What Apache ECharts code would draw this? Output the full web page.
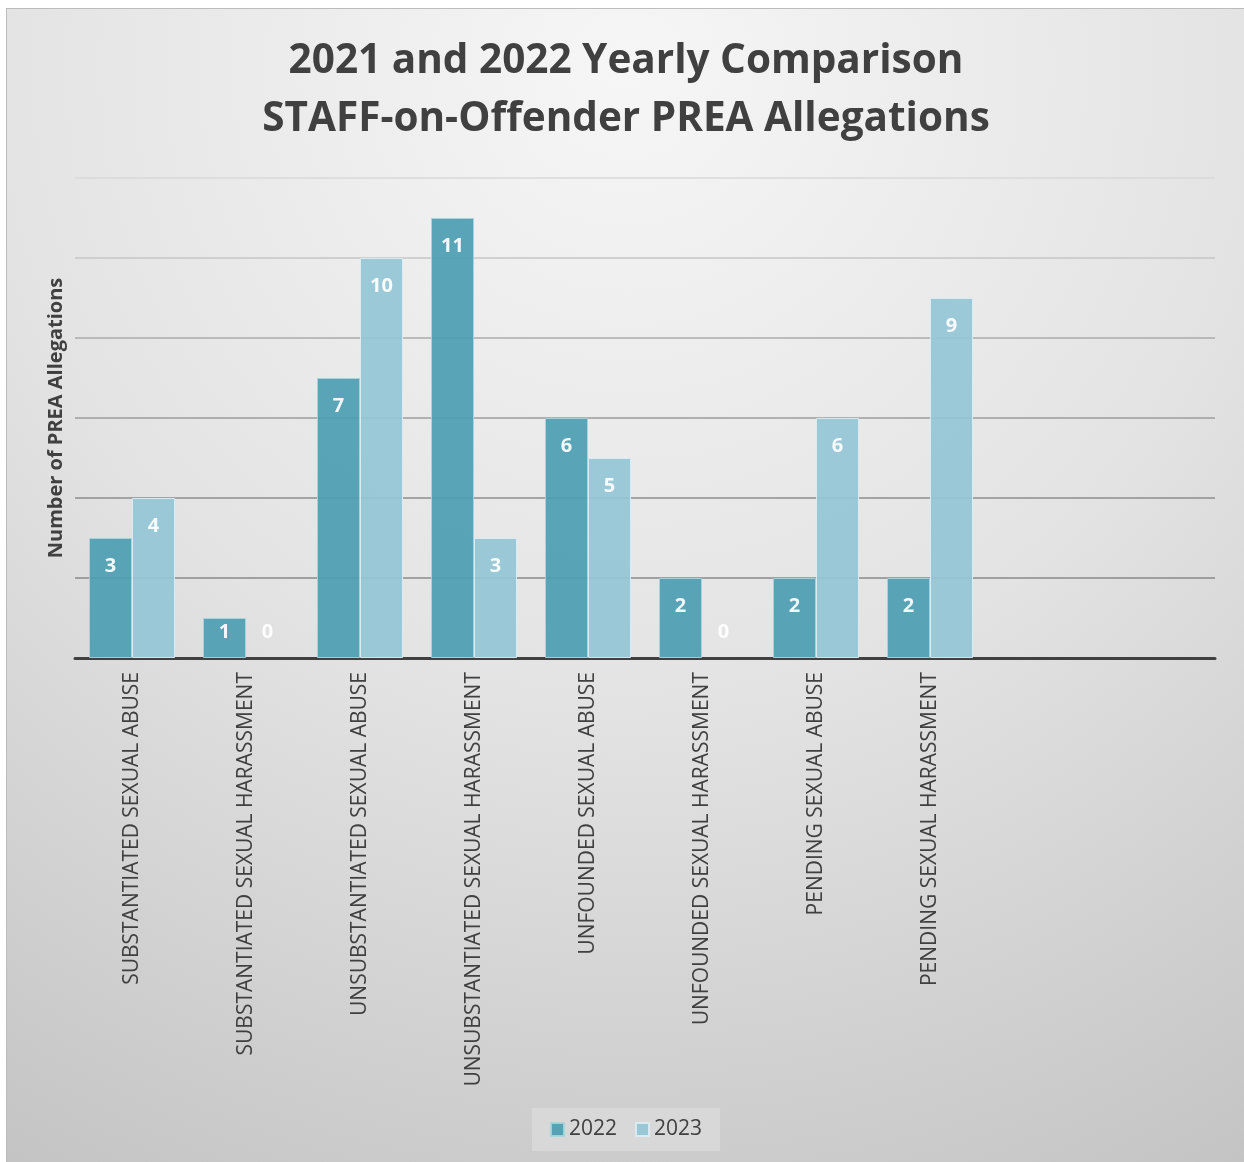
<!DOCTYPE html>
<html>
<head>
<meta charset="utf-8">
<script src="https://cdn.jsdelivr.net/npm/echarts@6/dist/echarts.min.js"></script>
<style>
  html, body { margin: 0; padding: 0; background: #fff; overflow: hidden; }
  #chart {
    position: absolute;
    left: 6px;
    top: 8px;
    width: 1238px;
    height: 1154px;
    border-top: 1px solid #bcbcbc;
    border-left: 1px solid #bcbcbc;
  }
</style>
</head>
<body>
<div id="chart"></div>
<script>
const categories = [
  "SUBSTANTIATED SEXUAL ABUSE",
  "SUBSTANTIATED SEXUAL HARASSMENT",
  "UNSUBSTANTIATED SEXUAL ABUSE",
  "UNSUBSTANTIATED SEXUAL HARASSMENT",
  "UNFOUNDED SEXUAL ABUSE",
  "UNFOUNDED SEXUAL HARASSMENT",
  "PENDING SEXUAL ABUSE",
  "PENDING SEXUAL HARASSMENT",
  "",
  ""
];
const values2022 = [3, 1, 7, 11, 6, 2, 2, 2, null, null];
const values2023 = [4, 0, 10, 3, 5, 0, 6, 9, null, null];
const seriesNames = ["2022", "2023"];

// label sits 28px under the bar top, short bars push it up
const labelPos = (v) => (v === 0 ? ["50%", -26] : v === 1 ? ["50%", 14] : ["50%", 28]);
const toData = (vals) =>
  vals.map((v) => {
    if (v === null) return null;
    const item = { value: v, label: { position: labelPos(v) } };
    if (v === 0) item.itemStyle = { borderWidth: 0 };
    return item;
  });

const chart = echarts.init(document.getElementById("chart"));

const barLabel = {
  show: true,
  color: "#ffffff",
  fontFamily: "Open Sans",
  fontWeight: "bold",
  fontSize: 20,
  align: "center",
  verticalAlign: "middle",
};

chart.setOption({
  backgroundColor: new echarts.graphic.RadialGradient(0.5, 0.05, 1.1, [
    { offset: 0, color: "#f6f6f6" },
    { offset: 0.5, color: "#e3e3e3" },
    { offset: 1, color: "#c3c3c3" },
  ]),
  title: {
    text: "2021 and 2022 Yearly Comparison\nSTAFF-on-Offender PREA Allegations",
    left: "center",
    top: 23,
    padding: 0,
    textStyle: {
      fontFamily: "Open Sans",
      fontWeight: "bold",
      fontSize: 40.5,
      lineHeight: 58,
      color: "#404040",
    },
  },
  grid: { left: 68, right: 30, top: 169, bottom: 505, containLabel: false },
  legend: {
    data: seriesNames,
    bottom: 12,
    left: "center",
    padding: [11, 18],
    itemGap: 18,
    itemWidth: 13,
    itemHeight: 13,
    icon: "rect",
    backgroundColor: "rgba(255,255,255,0.22)",
    textStyle: { fontFamily: "Open Sans", fontSize: 21, color: "#404040" },
  },
  xAxis: {
    type: "category",
    data: categories,
    axisLine: { show: true, lineStyle: { color: "#404040", width: 3 } },
    axisTick: { show: false },
    axisLabel: {
      interval: 0,
      rotate: 90,
      margin: 14,
      fontFamily: "Open Sans",
      fontSize: 21,
      color: "#404040",
    },
  },
  yAxis: {
    type: "value",
    min: 0,
    max: 12,
    interval: 2,
    name: "Number of PREA Allegations",
    nameLocation: "middle",
    nameGap: 9,
    nameTextStyle: {
      fontFamily: "Open Sans",
      fontWeight: "bold",
      fontSize: 20,
      color: "#404040",
    },
    axisLabel: { show: false },
    axisLine: { show: false },
    axisTick: { show: false },
    splitLine: {
      lineStyle: {
        width: 1.5,
        color: ["#8a8a8a", "#8a8a8a", "#8e8e8e", "#9c9c9c", "#ababab", "#c6c6c6", "#d9d9d9"],
      },
    },
  },
  series: [
    {
      name: seriesNames[0],
      type: "bar",
      barWidth: 43,
      barGap: "0%",
      data: toData(values2022),
      itemStyle: { color: "#4c9db1", opacity: 0.92, borderColor: "#a9d3dc", borderWidth: 1 },
      label: barLabel,
    },
    {
      name: seriesNames[1],
      type: "bar",
      barWidth: 43,
      data: toData(values2023),
      itemStyle: { color: "#95c6d6", opacity: 0.92, borderColor: "#dcedf3", borderWidth: 1 },
      label: barLabel,
    },
  ],
});
</script>
</body>
</html>
